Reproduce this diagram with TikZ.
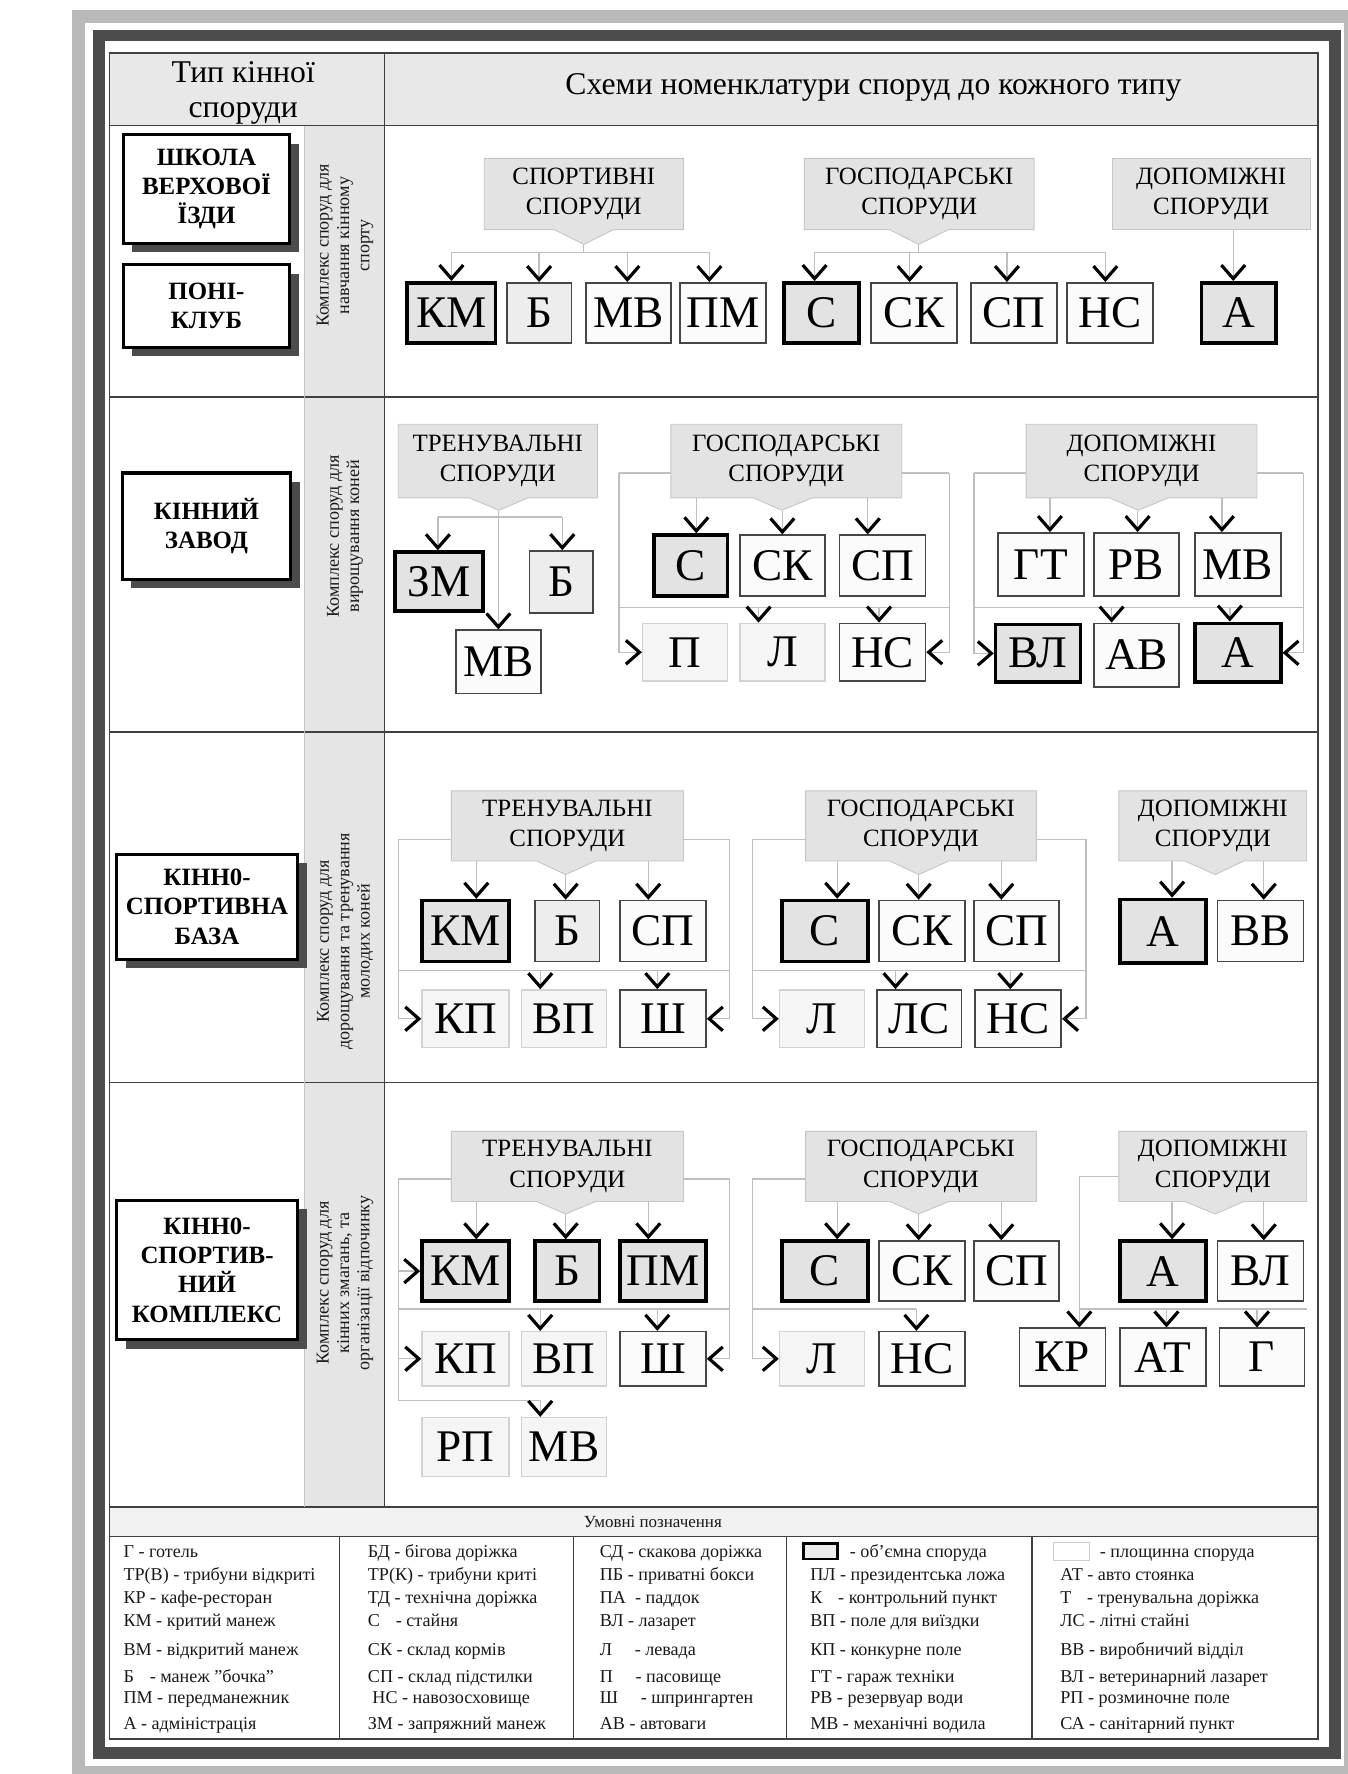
\documentclass[tikz,border=0pt]{standalone}
\usepackage{fontspec}
\setmainfont{Liberation Serif}
\usetikzlibrary{arrows.meta,shapes.callouts,calc}
\newcommand\myfs[2]{\fontsize{#1}{#2}\selectfont}
\newcommand\bxn[7]{\node[#1, minimum width={(#5-#3)*1pt}, minimum height={(#6-#4)*1pt}] (#2) at ({(#3+#5)/2},{(#4+#6)/2}) {#7};}
\newcommand\cln[7]{\node[clout, minimum width={(#4-#2)*1pt}, minimum height={(#5-#3)*1pt}, callout absolute pointer={(#6)}] (#1) at ({(#2+#4)/2},{(#3+#5)/2}) {#7};}
\newcommand\dnar[3]{\draw[arr] ($(#1.north |- #2)+(#3,0)$) -- ($(#1.north)+(#3,0)$);}
\newcommand\lbl[6]{\fill[gray!60!black] (#2+8,#3+8) rectangle (#4+8,#5+8); \node[lab, minimum width={(#4-#2)*1pt}, minimum height={(#5-#3)*1pt}] (#1) at ({(#2+#4)/2},{(#3+#5)/2}) {#6};}
\newcommand\lgt[4]{\node[legt] (#1) at (#2,#3+5) {#4};}
\begin{document}
\begin{tikzpicture}[x=1pt,y=-1pt,
  thk/.style={draw=black,line width=3.2pt,fill=gray!22,inner sep=0pt,font={\myfs{40}{44}}},
  thn/.style={draw=gray!55!black,line width=1.4pt,fill=gray!3,inner sep=0pt,font={\myfs{40}{44}}},
  ltb/.style={thn,fill=gray!14},
  fnt/.style={draw=gray!35,line width=1.3pt,fill=gray!8,inner sep=0pt,font={\myfs{40}{44}}},
  clout/.style={rectangle callout,draw=gray!45,line width=0.8pt,fill=gray!22,callout pointer width=52pt,inner sep=0pt,align=center,font={\myfs{22}{27}}},
  callbox/.style={rectangle,draw=gray!45,line width=0.8pt,fill=gray!22,inner sep=0pt,align=center,font={\myfs{22}{27}}},
  cline/.style={draw=gray!50,line width=1.2pt},
  arr/.style={cline,-{Straight Barb[length=12pt,width=21pt,line width'=2.8pt,color=black]}},
  lab/.style={draw=black,line width=2.8pt,fill=white,inner sep=0pt,align=center,font={\bfseries\myfs{22}{26}}},
  vtext/.style={rotate=90,align=center,text=gray!20!black,font={\myfs{16}{18}}},
  legt/.style={anchor=base west,inner sep=0pt,text=gray!20!black,font={\myfs{16}{19}}},
]
\useasboundingbox (0,0) rectangle (1191,1568);
\fill[white] (0,0) rectangle (1191,1568);
% frames
\draw[gray!55,line width=11pt] (69.5,14.5) rectangle (1193,1566);
\draw[gray!60!black,line width=10pt] (87.5,31.5) rectangle (1180,1549.5);
% table
\fill[gray!18] (97,47) rectangle (1165,111);
\fill[gray!20] (269,111) rectangle (340,1332);
\fill[gray!10] (97,1332) rectangle (1165,1358);
\draw[gray!50!black,line width=1.3pt] (97,47) rectangle (1165,1537);
\foreach \yy in {111,351,647,957,1332,1358} \draw[gray!50!black,line width=1.3pt] (97,\yy) -- (1165,\yy);
\draw[gray!50!black,line width=1.3pt] (340,47) -- (340,1332);
\draw[gray!45,line width=0.8pt] (269,111) -- (269,1332);
\foreach \xx in {300,507,695,912} \draw[gray!50!black,line width=1.3pt] (\xx,1358) -- (\xx,1537);
% headers
\node[font={\myfs{28}{31}},align=center] (h1) at (215,82) {Тип кінної\\споруди};
\node[font={\myfs{28}{31}}] (h2) at (772,77) {Схеми номенклатури споруд до кожного типу};
% left labels
\lbl{lab1}{109}{119}{256}{215}{ШКОЛА\\ВЕРХОВОЇ\\ЇЗДИ}
\lbl{lab2}{109}{234}{256}{307}{ПОНІ-\\КЛУБ}
\lbl{lab3}{108}{418}{257}{512}{КІННИЙ\\ЗАВОД}
\lbl{lab4}{103}{755}{263}{848}{КІНН0-\\СПОРТИВНА\\БАЗА}
\lbl{lab5}{103}{1061}{263}{1184}{КІНН0-\\СПОРТИВ-\\НИЙ\\КОМПЛЕКС}
% vertical texts
\node[vtext] (v1) at (305,217) {Комплекс споруд для\\навчання кінному\\спорту};
\node[vtext] (v2) at (305,474) {Комплекс споруд для\\вирощування коней};
\node[vtext] (v3) at (305,832) {Комплекс споруд для\\дорощування та тренування\\молодих коней};
\node[vtext] (v4) at (305,1134) {Комплекс споруд для\\кінних змагань, та\\організації відпочинку};

% ===== ROW 1 =====
\bxn{thk}{km1}{360}{250}{438}{303}{КМ}
\bxn{ltb}{b1}{448}{250}{505}{303}{Б}
\bxn{thn}{mv1}{518}{250}{593}{303}{МВ}
\bxn{thn}{pm1}{601}{250}{677}{303}{ПМ}
\bxn{thk}{s1}{693}{250}{759}{303}{С}
\bxn{thn}{sk1}{770}{250}{846}{303}{СК}
\bxn{thn}{sp1}{858}{250}{934}{303}{СП}
\bxn{thn}{ns1}{943}{250}{1019}{303}{НС}
\bxn{thk}{a1}{1062}{250}{1128}{303}{А}
\coordinate (s1L) at (399,223); \coordinate (s1R) at (627,223);
\coordinate (g1L) at (720,223); \coordinate (g1R) at (977,223);
\draw[cline] (s1L) -- (s1R); \draw[cline] (g1L) -- (g1R);
\draw[cline] (516,216) -- (516,223);
\draw[cline] (812,216) -- (812,223);
\dnar{km1}{s1L}{0} \dnar{b1}{s1L}{0} \dnar{mv1}{s1L}{-1} \dnar{pm1}{s1L}{-12}
\dnar{s1}{g1L}{-6} \dnar{sk1}{g1L}{-4} \dnar{sp1}{g1L}{-6} \dnar{ns1}{g1L}{-4}
\cln{c1s}{428}{140}{604}{203}{516,216}{СПОРТИВНІ\\СПОРУДИ}
\cln{c1g}{711}{140}{914}{203}{812,216}{ГОСПОДАРСЬКІ\\СПОРУДИ}
\node[callbox,minimum width=175pt,minimum height=63pt] (c1d) at (1070.5,171.5) {ДОПОМІЖНІ\\СПОРУДИ};
\dnar{a1}{c1d.south}{-5}

% ===== ROW 2 =====
\bxn{thk}{zm2}{349}{488}{427}{540}{ЗМ}
\bxn{ltb}{b2}{468}{487}{524}{542}{Б}
\bxn{thn}{mv2}{403}{557}{478}{613}{МВ}
\coordinate (t2L) at (387,457); \coordinate (t2R) at (497,457);
\draw[cline] (t2L) -- (t2R);
\dnar{zm2}{t2L}{-1} \dnar{b2}{t2L}{1}
\bxn{thk}{s2}{578}{473}{643}{527}{С}
\bxn{thn}{sk2}{654}{473}{729}{527}{СК}
\bxn{thn}{sp2}{742}{473}{818}{527}{СП}
\bxn{fnt}{p2}{568}{551}{643}{602}{П}
\bxn{fnt}{l2}{654}{551}{729}{602}{Л}
\bxn{thn}{ns2}{742}{551}{818}{602}{НС}
\coordinate (g2TL) at (547,418); \coordinate (g2TR) at (839,418);
\coordinate (g2ML) at (547,537); \coordinate (g2MR) at (839,537);
\draw[cline] (g2TL) -- (g2TR); \draw[cline] (g2ML) -- (g2MR);
\draw[arr] (g2TL) |- (p2.west); \draw[arr] (g2TR) |- (ns2.east);
\dnar{l2}{g2ML}{-21} \dnar{ns2}{g2ML}{-3}
\bxn{thn}{gt2}{882}{471}{958}{527}{ГТ}
\bxn{thn}{rv2}{967}{471}{1042}{527}{РВ}
\bxn{thn}{mvb2}{1056}{471}{1132}{527}{МВ}
\bxn{thk}{vl2}{880}{552}{955}{603}{ВЛ}
\bxn{thn}{av2}{967}{551}{1042}{607}{АВ}
\bxn{thk}{a2}{1056}{551}{1132}{603}{А}
\coordinate (d2TL) at (861,418); \coordinate (d2TR) at (1152,418);
\coordinate (d2ML) at (861,537); \coordinate (d2MR) at (1152,537);
\draw[cline] (d2TL) -- (d2TR); \draw[cline] (d2ML) -- (d2MR);
\draw[arr] (d2TL) |- (vl2.west); \draw[arr] (d2TR) |- (a2.east);
\dnar{av2}{d2ML}{-22} \dnar{a2}{d2ML}{-7}
\cln{c2t}{352}{375}{528}{440}{441,451}{ТРЕНУВАЛЬНІ\\СПОРУДИ}
\cln{c2g}{593}{375}{797}{440}{691,451}{ГОСПОДАРСЬКІ\\СПОРУДИ}
\cln{c2d}{907}{375}{1111}{440}{1006,451}{ДОПОМІЖНІ\\СПОРУДИ}
\dnar{mv2}{c2t.pointer}{0}
\dnar{s2}{c2g.south}{5} \dnar{sk2}{c2g.pointer}{0} \dnar{sp2}{c2g.south}{-13}
\dnar{gt2}{c2d.south}{8} \dnar{rv2}{c2d.pointer}{1} \dnar{mvb2}{c2d.south}{-14}

% ===== ROW 3 =====
\bxn{thk}{km3}{373}{796}{450}{850}{КМ}
\bxn{ltb}{b3}{473}{796}{530}{850}{Б}
\bxn{thn}{sp3}{548}{796}{624}{850}{СП}
\bxn{fnt}{kp3}{373}{875}{450}{926}{КП}
\bxn{fnt}{vp3}{461}{875}{536}{926}{ВП}
\bxn{thn}{sh3}{548}{875}{624}{926}{Ш}
\coordinate (t3TL) at (352,742); \coordinate (t3TR) at (645,742);
\coordinate (t3ML) at (352,858); \coordinate (t3MR) at (645,858);
\draw[cline] (t3TL) -- (t3TR); \draw[cline] (t3ML) -- (t3MR);
\draw[arr] (t3TL) |- (kp3.west); \draw[arr] (t3TR) |- (sh3.east);
\dnar{vp3}{t3ML}{-21} \dnar{sh3}{t3ML}{-5}
\bxn{thk}{s3}{691}{796}{767}{850}{С}
\bxn{thn}{sk3}{777}{796}{853}{850}{СК}
\bxn{thn}{spb3}{861}{796}{936}{850}{СП}
\bxn{fnt}{l3}{689}{875}{764}{926}{Л}
\bxn{thn}{ls3}{775}{875}{850}{926}{ЛС}
\bxn{thn}{ns3}{862}{875}{938}{926}{НС}
\coordinate (g3TL) at (665,742); \coordinate (g3TR) at (960,742);
\coordinate (g3ML) at (665,858); \coordinate (g3MR) at (960,858);
\draw[cline] (g3TL) -- (g3TR); \draw[cline] (g3ML) -- (g3MR);
\draw[arr] (g3TL) |- (l3.west); \draw[arr] (g3TR) |- (ns3.east);
\dnar{ls3}{g3ML}{-21} \dnar{ns3}{g3ML}{-7}
\bxn{thk}{a3}{990}{795}{1066}{851}{А}
\bxn{thn}{vv3}{1076}{796}{1152}{850}{ВВ}
\cln{c3t}{399}{699}{604}{761}{500,773}{ТРЕНУВАЛЬНІ\\СПОРУДИ}
\cln{c3g}{712}{699}{916}{761}{812,773}{ГОСПОДАРСЬКІ\\СПОРУДИ}
\cln{c3d}{989}{699}{1155}{761}{1074,773}{ДОПОМІЖНІ\\СПОРУДИ}
\dnar{km3}{c3t.south}{9.5} \dnar{b3}{c3t.pointer}{-1.5} \dnar{sp3}{c3t.south}{-13}
\dnar{s3}{c3g.south}{11} \dnar{sk3}{c3g.pointer}{-3} \dnar{spb3}{c3g.south}{-13.5}
\dnar{a3}{c3d.south}{8} \dnar{vv3}{c3d.south}{3}

% ===== ROW 4 =====
\bxn{thk}{km4}{373}{1097}{450}{1150}{КМ}
\bxn{thk}{b4}{473}{1097}{530}{1150}{Б}
\bxn{thk}{pm4}{548}{1097}{624}{1150}{ПМ}
\bxn{fnt}{kp4}{373}{1177}{450}{1225}{КП}
\bxn{fnt}{vp4}{461}{1177}{536}{1225}{ВП}
\bxn{thn}{sh4}{548}{1177}{624}{1225}{Ш}
\bxn{fnt}{rp4}{373}{1253}{450}{1305}{РП}
\bxn{fnt}{mv4}{461}{1253}{536}{1305}{МВ}
\coordinate (t4TL) at (352,1042); \coordinate (t4TR) at (645,1042);
\coordinate (t4ML) at (352,1157); \coordinate (t4MR) at (645,1157);
\coordinate (t4BL) at (352,1238);
\draw[cline] (t4TL) -- (t4TR); \draw[cline] (t4ML) -- (t4MR); \draw[cline] (t4TL) -- (t4BL);
\draw[arr] (t4TL |- km4.west) -- (km4.west);
\draw[arr] (t4TL |- kp4.west) -- (kp4.west);
\draw[arr] (t4TR) |- (sh4.east);
\draw[arr] (t4BL) -| ($(mv4.north)+(-21,0)$);
\dnar{vp4}{t4ML}{-21} \dnar{sh4}{t4ML}{-5}
\bxn{thk}{s4}{691}{1097}{767}{1150}{С}
\bxn{thn}{sk4}{777}{1097}{853}{1150}{СК}
\bxn{thn}{sp4}{861}{1097}{936}{1150}{СП}
\bxn{fnt}{l4}{689}{1177}{764}{1225}{Л}
\bxn{thn}{ns4}{777}{1177}{853}{1225}{НС}
\coordinate (g4TL) at (665,1042); \coordinate (g4T2) at (712,1042);
\coordinate (g4ML) at (665,1157); \coordinate (g4M2) at (810,1157);
\draw[cline] (g4TL) -- (g4T2); \draw[cline] (g4ML) -- (g4M2);
\draw[arr] (g4TL) |- (l4.west);
\dnar{ns4}{g4ML}{-5}
\bxn{thk}{a4}{990}{1097}{1066}{1150}{А}
\bxn{thn}{vl4}{1076}{1097}{1152}{1150}{ВЛ}
\bxn{thn}{kr4}{901}{1174}{977}{1225}{КР}
\bxn{thn}{at4}{990}{1174}{1066}{1225}{АТ}
\bxn{thn}{gg4}{1078}{1174}{1153}{1225}{Г}
\coordinate (d4TL) at (954,1040); \coordinate (d4T2) at (989,1040);
\coordinate (d4ML) at (954,1157); \coordinate (d4MR) at (1155,1157);
\draw[cline] (d4TL) -- (d4T2); \draw[cline] (d4ML) -- (d4MR);
\draw[arr] (d4TL) -- (d4TL |- kr4.north);
\dnar{at4}{d4ML}{3} \dnar{gg4}{d4ML}{-4.5}
\cln{c4t}{399}{1000}{604}{1062}{500,1073}{ТРЕНУВАЛЬНІ\\СПОРУДИ}
\cln{c4g}{712}{1000}{916}{1062}{812,1073}{ГОСПОДАРСЬКІ\\СПОРУДИ}
\cln{c4d}{989}{1000}{1155}{1062}{1074,1073}{ДОПОМІЖНІ\\СПОРУДИ}
\dnar{km4}{c4t.south}{9.5} \dnar{b4}{c4t.pointer}{-1.5} \dnar{pm4}{c4t.south}{-13}
\dnar{s4}{c4g.south}{11} \dnar{sk4}{c4g.pointer}{-3} \dnar{sp4}{c4g.south}{-13.5}
\dnar{a4}{c4d.south}{8} \dnar{vl4}{c4d.south}{3}

% ===== LEGEND =====
\node[font={\myfs{15}{18}},text=gray!20!black] (lh) at (577,1345) {Умовні позначення};
\lgt{la1}{109}{1372}{Г - готель}
\lgt{la2}{109}{1392}{ТР(В) - трибуни відкриті}
\lgt{la3}{109}{1412}{КР - кафе-ресторан}
\lgt{la4}{109}{1433}{КМ - критий манеж}
\lgt{la5}{109}{1458}{ВМ - відкритий манеж}
\lgt{la6}{109}{1482}{Б\hspace{14pt}- манеж "бочка"}
\lgt{la7}{109}{1501}{ПМ - передманежник}
\lgt{la8}{109}{1524}{А - адміністрація}
\lgt{lb1}{325}{1372}{БД - бігова доріжка}
\lgt{lb2}{325}{1392}{ТР(К) - трибуни криті}
\lgt{lb3}{325}{1412}{ТД - технічна доріжка}
\lgt{lb4}{325}{1433}{С\hspace{14pt}- стайня}
\lgt{lb5}{325}{1458}{СК - склад кормів}
\lgt{lb6}{325}{1482}{СП - склад підстилки}
\lgt{lb7}{329}{1501}{НС - навозосховище}
\lgt{lb8}{325}{1524}{ЗМ - запряжний манеж}
\lgt{lc1}{530}{1372}{СД - скакова доріжка}
\lgt{lc2}{530}{1392}{ПБ - приватні бокси}
\lgt{lc3}{530}{1412}{ПА\hspace{8pt}- паддок}
\lgt{lc4}{530}{1433}{ВЛ - лазарет}
\lgt{lc5}{530}{1458}{Л\hspace{20pt}- левада}
\lgt{lc6}{530}{1482}{П\hspace{20pt}- пасовище}
\lgt{lc7}{530}{1501}{Ш\hspace{20pt}- шпрингартен}
\lgt{lc8}{530}{1524}{АВ - автоваги}
\node[draw=black,line width=2.5pt,fill=gray!15,minimum width=30pt,minimum height=14pt,inner sep=0pt] (lgk) at (725,1371) {};
\lgt{ld1}{751}{1372}{- об'ємна споруда}
\lgt{ld2}{716}{1392}{ПЛ - президентська ложа}
\lgt{ld3}{716}{1412}{К\hspace{14pt}- контрольний пункт}
\lgt{ld4}{716}{1433}{ВП - поле для виїздки}
\lgt{ld5}{716}{1458}{КП - конкурне поле}
\lgt{ld6}{716}{1482}{ГТ - гараж техніки}
\lgt{ld7}{716}{1501}{РВ - резервуар води}
\lgt{ld8}{716}{1524}{МВ - механічні водила}
\node[draw=gray!40,line width=1pt,fill=white,minimum width=32pt,minimum height=16pt,inner sep=0pt] (lgt) at (947,1371) {};
\lgt{le1}{972}{1372}{- площинна споруда}
\lgt{le2}{937}{1392}{АТ - авто стоянка}
\lgt{le3}{937}{1412}{Т\hspace{14pt}- тренувальна доріжка}
\lgt{le4}{937}{1433}{ЛС - літні стайні}
\lgt{le5}{937}{1458}{ВВ - виробничий відділ}
\lgt{le6}{937}{1482}{ВЛ - ветеринарний лазарет}
\lgt{le7}{937}{1501}{РП - розминочне поле}
\lgt{le8}{937}{1524}{СА - санітарний пункт}
\end{tikzpicture}
\end{document}
